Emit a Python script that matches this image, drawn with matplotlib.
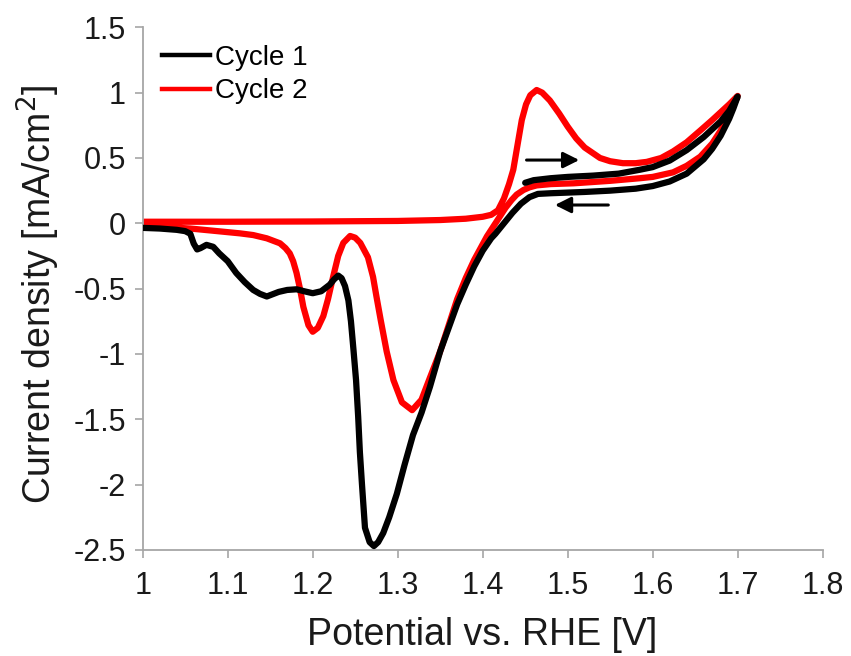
import matplotlib
matplotlib.use("Agg")
import matplotlib.pyplot as plt
from matplotlib.lines import Line2D

plt.rcParams['font.family'] = ['Liberation Sans', 'DejaVu Sans']

# Cycle 1: starts at 1.45 V, anodic sweep to 1.70 V, then cathodic sweep back to 1.00 V
cycle1_potential = [
    1.450, 1.460, 1.480, 1.500, 1.530, 1.560, 1.585, 1.600, 1.620, 1.640, 1.660, 1.680, 1.690, 1.700,
    1.695, 1.690, 1.680, 1.670, 1.660, 1.640, 1.620, 1.600, 1.580, 1.550, 1.520, 1.500, 1.480, 1.465,
    1.455, 1.445, 1.435, 1.425, 1.415, 1.410, 1.400, 1.390, 1.380, 1.370, 1.360, 1.350, 1.338, 1.328,
    1.318, 1.308, 1.299, 1.290, 1.283, 1.277, 1.272, 1.267, 1.2615, 1.258, 1.2555, 1.2535, 1.251, 1.248,
    1.245, 1.242, 1.238, 1.234, 1.230, 1.225, 1.220, 1.210, 1.200, 1.190, 1.181, 1.170, 1.160, 1.146,
    1.138, 1.130, 1.120, 1.110, 1.100, 1.090, 1.083, 1.075, 1.068, 1.064, 1.060, 1.056, 1.050, 1.040,
    1.020, 1.000,
]
cycle1_current = [
    0.31, 0.33, 0.345, 0.355, 0.365, 0.38, 0.41, 0.43, 0.48, 0.56, 0.66, 0.78, 0.86, 0.97,
    0.88, 0.80, 0.67, 0.57, 0.49, 0.38, 0.32, 0.285, 0.265, 0.25, 0.24, 0.235, 0.23, 0.225,
    0.20, 0.15, 0.08, 0.0, -0.08, -0.115, -0.21, -0.33, -0.47, -0.62, -0.80, -0.98, -1.25, -1.45,
    -1.62, -1.85, -2.07, -2.25, -2.37, -2.44, -2.47, -2.44, -2.33, -2.0, -1.75, -1.48, -1.2, -0.97,
    -0.75, -0.59, -0.48, -0.42, -0.40, -0.43, -0.47, -0.52, -0.535, -0.52, -0.505, -0.51, -0.525, -0.56,
    -0.54, -0.51, -0.45, -0.38, -0.29, -0.23, -0.18, -0.165, -0.19, -0.20, -0.155, -0.08, -0.06, -0.05,
    -0.04, -0.035,
]

# Cycle 2: anodic sweep from 1.00 V to 1.70 V, then cathodic sweep back to 1.00 V
cycle2_potential = [
    1.000, 1.100, 1.200, 1.300, 1.350, 1.380, 1.400, 1.410, 1.418, 1.425, 1.431, 1.436, 1.441, 1.446,
    1.451, 1.456, 1.4635, 1.470, 1.479, 1.490, 1.500, 1.510, 1.520, 1.538, 1.550, 1.565, 1.580, 1.593,
    1.610, 1.624, 1.640, 1.656, 1.670, 1.680, 1.690, 1.700,
    1.695, 1.690, 1.680, 1.670, 1.656, 1.640, 1.624, 1.600, 1.585, 1.550, 1.507, 1.480, 1.4635, 1.455,
    1.448, 1.440, 1.434, 1.427, 1.420, 1.412, 1.405, 1.400, 1.390, 1.380, 1.370, 1.360, 1.350, 1.338,
    1.328, 1.317, 1.305, 1.295, 1.287, 1.280, 1.275, 1.271, 1.265, 1.256, 1.250, 1.244, 1.236, 1.230,
    1.224, 1.218, 1.2125, 1.206, 1.200, 1.195, 1.189, 1.185, 1.181, 1.177, 1.173, 1.168, 1.1615, 1.146,
    1.130, 1.1145, 1.080, 1.056, 1.030, 1.000,
]
cycle2_current = [
    0.012, 0.012, 0.014, 0.018, 0.025, 0.035, 0.05, 0.065, 0.10, 0.19, 0.30, 0.41, 0.60, 0.79,
    0.91, 0.98, 1.02, 1.0, 0.94, 0.84, 0.74, 0.65, 0.58, 0.50, 0.475, 0.46, 0.46, 0.47,
    0.50, 0.55, 0.62, 0.71, 0.79, 0.85, 0.91, 0.975,
    0.90, 0.83, 0.71, 0.61, 0.51, 0.44, 0.39, 0.355, 0.345, 0.325, 0.306, 0.30, 0.29, 0.275,
    0.255, 0.22, 0.178, 0.12, 0.05, -0.03, -0.10, -0.16, -0.28, -0.42, -0.58, -0.78, -0.98, -1.18,
    -1.35, -1.43, -1.37, -1.20, -0.98, -0.74, -0.56, -0.41, -0.26, -0.15, -0.11, -0.097, -0.15, -0.25,
    -0.41, -0.58, -0.71, -0.80, -0.83, -0.78, -0.64, -0.50, -0.38, -0.29, -0.23, -0.19, -0.153, -0.115,
    -0.09, -0.077, -0.055, -0.04, -0.03, -0.026,
]

series_labels = ["Cycle 1", "Cycle 2"]
series_colors = ["#000000", "#ff0000"]

x_ticks = [1.0, 1.1, 1.2, 1.3, 1.4, 1.5, 1.6, 1.7, 1.8]
x_tick_labels = ["1", "1.1", "1.2", "1.3", "1.4", "1.5", "1.6", "1.7", "1.8"]
y_ticks = [-2.5, -2.0, -1.5, -1.0, -0.5, 0.0, 0.5, 1.0, 1.5]
y_tick_labels = ["-2.5", "-2", "-1.5", "-1", "-0.5", "0", "0.5", "1", "1.5"]

# sweep-direction arrows (start, end) in data coordinates
forward_arrow = [(1.4516, 0.484), (1.5136, 0.484)]
reverse_arrow = [(1.5478, 0.140), (1.4850, 0.140)]

fig = plt.figure(figsize=(8.51, 6.56), dpi=100)
ax = fig.add_axes([0.1677, 0.1616, 0.7990, 0.7968])

ax.plot(cycle1_potential, cycle1_current, color=series_colors[0], lw=4.5,
        solid_joinstyle='round', solid_capstyle='round', zorder=3)
ax.plot(cycle2_potential, cycle2_current, color=series_colors[1], lw=4.5,
        solid_joinstyle='round', solid_capstyle='round', zorder=2)

for (x0, y0), (x1, y1) in (forward_arrow, reverse_arrow):
    ax.annotate("", xy=(x1, y1), xytext=(x0, y0),
                arrowprops=dict(arrowstyle='-|>', color='black', lw=2.2,
                                mutation_scale=24, shrinkA=0, shrinkB=0))

ax.set_xlim(1.0, 1.8)
ax.set_ylim(-2.5, 1.5)
ax.set_xticks(x_ticks)
ax.set_xticklabels(x_tick_labels)
ax.set_yticks(y_ticks)
ax.set_yticklabels(y_tick_labels)

spine_color = '#a6a6a6'
for side in ('top', 'right'):
    ax.spines[side].set_visible(False)
for side in ('left', 'bottom'):
    ax.spines[side].set_color(spine_color)
    ax.spines[side].set_linewidth(1.3)

ax.tick_params(axis='both', direction='out', length=6, width=1.2, color=spine_color,
               labelsize=22, labelcolor='#1a1a1a')
ax.tick_params(axis='x', pad=9)
ax.tick_params(axis='y', pad=6)

ax.set_xlabel("Potential vs. RHE [V]", fontsize=27, color='#1a1a1a')
ax.set_ylabel("Current density [mA/cm$^2$]", fontsize=27, color='#1a1a1a')
ax.xaxis.set_label_coords(0.499, -0.128)
ax.yaxis.set_label_coords(-0.118, 0.49)

handles = [Line2D([0], [0], color=c, lw=3.2) for c in series_colors]
ax.legend(handles, series_labels, loc='upper left', bbox_to_anchor=(0.028, 0.967),
          frameon=False, fontsize=20, handlelength=1.75, handletextpad=0.15,
          labelspacing=0.28, borderpad=0, borderaxespad=0)

fig.savefig("out.png", dpi=100, facecolor='white')
